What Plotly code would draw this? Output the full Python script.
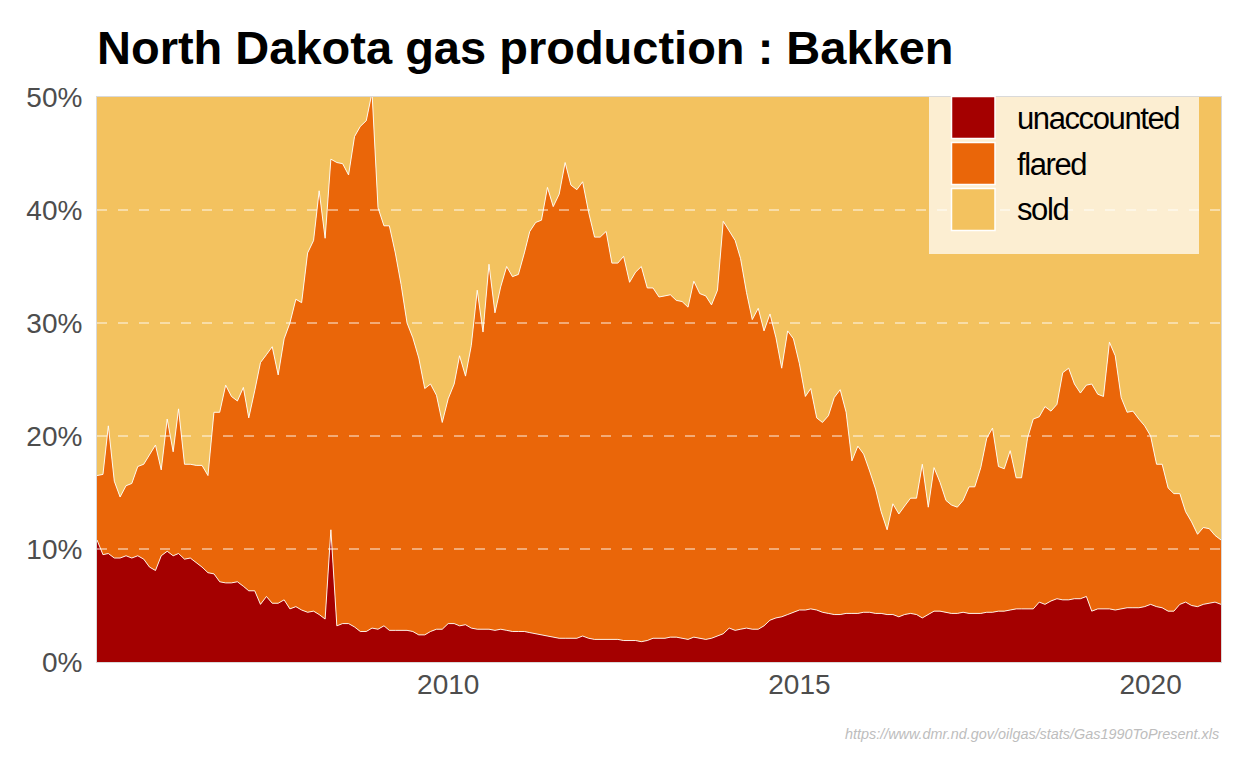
import plotly.graph_objects as go
import pandas as pd

# ---- data (percent of gross gas production, monthly Jan 2005 .. Jan 2021) ----
start_month = "2005-01-01"
n_months = 193

unaccounted = [
    10.8, 9.5, 9.6, 9.2, 9.2, 9.4, 9.2, 9.4, 9.1, 8.4,
    8.1, 9.4, 9.8, 9.4, 9.6, 9.1, 9.2, 8.8, 8.4, 7.9,
    7.8, 7.1, 7.0, 7.0, 7.1, 6.7, 6.3, 6.3, 5.1, 5.8,
    5.2, 5.2, 5.5, 4.7, 4.9, 4.6, 4.4, 4.5, 4.2, 3.8,
    11.7, 3.2, 3.4, 3.4, 3.1, 2.7, 2.7, 3.0, 2.9, 3.2,
    2.8, 2.8, 2.8, 2.8, 2.7, 2.4, 2.4, 2.7, 2.9, 2.9,
    3.4, 3.4, 3.2, 3.3, 3.0, 2.9, 2.9, 2.9, 2.8, 2.9,
    2.8, 2.7, 2.7, 2.7, 2.6, 2.5, 2.4, 2.3, 2.2, 2.1,
    2.1, 2.1, 2.1, 2.3, 2.1, 2.0, 2.0, 2.0, 2.0, 2.0,
    1.9, 1.9, 1.9, 1.8, 1.9, 2.1, 2.1, 2.1, 2.2, 2.2,
    2.1, 2.0, 2.2, 2.1, 2.0, 2.1, 2.3, 2.5, 3.0, 2.8,
    2.9, 3.0, 2.9, 2.9, 3.2, 3.7, 3.9, 4.0, 4.2, 4.4,
    4.6, 4.6, 4.7, 4.6, 4.4, 4.3, 4.2, 4.2, 4.3, 4.3,
    4.3, 4.4, 4.4, 4.3, 4.3, 4.2, 4.2, 4.0, 4.2, 4.3,
    4.2, 3.9, 4.2, 4.5, 4.5, 4.4, 4.3, 4.3, 4.4, 4.3,
    4.3, 4.3, 4.4, 4.4, 4.5, 4.5, 4.6, 4.7, 4.7, 4.7,
    4.7, 5.3, 5.1, 5.4, 5.6, 5.5, 5.5, 5.6, 5.6, 5.8,
    4.5, 4.7, 4.7, 4.7, 4.6, 4.7, 4.8, 4.8, 4.8, 4.9,
    5.1, 4.9, 4.8, 4.5, 4.5, 5.1, 5.3, 5.0, 4.9, 5.1,
    5.2, 5.3, 5.1,
]

# cumulative level: unaccounted + flared
unaccounted_plus_flared = [
    16.5, 16.6, 20.9, 16.0, 14.6, 15.6, 15.8, 17.3, 17.5, 18.3,
    19.2, 17.0, 21.5, 18.6, 22.4, 17.5, 17.5, 17.4, 17.4, 16.5,
    22.1, 22.1, 24.5, 23.5, 23.1, 24.3, 21.6, 24.0, 26.5, 27.2,
    27.9, 25.4, 28.6, 30.0, 32.1, 31.8, 36.2, 37.3, 41.7, 37.5,
    44.5, 44.2, 44.1, 43.1, 46.5, 47.4, 47.9, 50.4, 40.2, 38.6,
    38.6, 36.2, 33.4, 30.0, 28.7, 26.9, 24.2, 24.6, 23.6, 21.2,
    23.3, 24.6, 27.1, 25.3, 28.0, 32.9, 29.2, 35.2, 30.9, 33.2,
    35.0, 34.1, 34.3, 36.2, 38.1, 38.9, 39.1, 42.0, 40.3, 41.4,
    44.2, 42.2, 41.8, 42.5, 39.8, 37.6, 37.6, 38.1, 35.3, 35.3,
    35.9, 33.6, 34.5, 35.0, 33.1, 33.1, 32.3, 32.4, 32.5, 32.0,
    31.9, 31.4, 33.7, 32.6, 32.4, 31.6, 32.9, 39.0, 38.1, 37.3,
    35.7, 32.7, 30.3, 31.3, 29.3, 30.8, 28.7, 26.0, 29.3, 28.6,
    26.4, 23.5, 24.2, 21.6, 21.2, 21.8, 23.4, 24.1, 22.1, 17.8,
    19.1, 18.4, 16.9, 15.3, 13.3, 11.7, 14.0, 13.1, 13.8, 14.5,
    14.5, 17.5, 13.7, 17.2, 15.9, 14.3, 13.9, 13.7, 14.3, 15.5,
    15.5, 17.2, 19.8, 20.7, 17.3, 17.1, 18.7, 16.3, 16.3, 19.8,
    21.5, 21.7, 22.6, 22.2, 22.8, 25.6, 26.0, 24.6, 23.8, 24.5,
    24.6, 23.7, 23.5, 28.3, 27.1, 23.4, 22.1, 22.2, 21.5, 20.9,
    20.0, 17.5, 17.5, 15.4, 14.9, 14.9, 13.3, 12.4, 11.3, 11.9,
    11.8, 11.2, 10.8,
]

series_names = ["unaccounted", "flared", "sold"]
year_ticks = [2010, 2015, 2020]
pct_ticks = [0, 10, 20, 30, 40, 50]

months = pd.date_range(start_month, periods=n_months, freq="MS")
flared = [round(t - u, 2) for t, u in zip(unaccounted_plus_flared, unaccounted)]
sold = [round(100 - t, 2) for t in unaccounted_plus_flared]

colors = {"unaccounted": "#A40000", "flared": "#EA6609", "sold": "#F3C25F"}

fig = go.Figure()
for name, vals, lw in [("unaccounted", unaccounted, 0.9),
                       ("flared", flared, 0.9),
                       ("sold", sold, 0)]:
    fig.add_trace(go.Scatter(
        x=months, y=vals, name=name, mode="lines", stackgroup="one",
        fillcolor=colors[name],
        line=dict(color="white", width=lw),
        showlegend=False, hoverinfo="skip",
    ))

# ---- layout geometry (page pixels; the page body adds an 8px offset) ----
W, H = 1248, 768
OFF = 8
L, R, T, B = 97, 1221, 97, 662   # plot area in page coordinates


def px(x):
    return (x - L) / (R - L)


def py(y):
    return (B - y) / (B - T)


shapes = []
for v in pct_ticks[1:-1]:
    shapes.append(dict(type="line", xref="paper", yref="y", x0=0, x1=1, y0=v, y1=v,
                       line=dict(color="rgba(255,255,255,0.9)", width=1.1, dash="10px,11px"),
                       layer="above"))
shapes.append(dict(type="rect", xref="paper", yref="paper",
                   x0=px(929), x1=px(1199), y0=py(254), y1=py(97),
                   fillcolor="rgba(255,255,255,0.72)", line=dict(width=0), layer="above"))
sw_tops = [96.5, 142.5, 188.5]
for name, top in zip(series_names, sw_tops):
    shapes.append(dict(type="rect", xref="paper", yref="paper",
                       x0=px(951.5), x1=px(995), y0=py(top + 42), y1=py(top),
                       fillcolor=colors[name], line=dict(color="white", width=1.5),
                       layer="above"))

annotations = []
for name, top in zip(series_names, sw_tops):
    annotations.append(dict(xref="paper", yref="paper", x=px(1015), y=py(top + 21.5),
                            xanchor="left", yanchor="middle", showarrow=False,
                            text=f'<span style="letter-spacing:-1.4px">{name}</span>',
                            font=dict(family="Liberation Sans, Arial", size=31, color="black")))
annotations.append(dict(xref="paper", yref="paper", x=1.0, y=py(734),
                        xanchor="right", yanchor="middle", showarrow=False,
                        text="<i>https://www.dmr.nd.gov/oilgas/stats/Gas1990ToPresent.xls</i>",
                        font=dict(family="Liberation Sans, Arial", size=14.4, color="#BDBDBD")))

tick_font = dict(family="Liberation Sans, Arial", size=28, color="#4D4D4D")

fig.update_layout(
    width=W, height=H,
    margin=dict(l=L - OFF, r=W - (R - OFF), t=T - OFF, b=H - (B - OFF)),
    paper_bgcolor="white",
    plot_bgcolor=colors["sold"],
    title=dict(text="<b>North Dakota gas production : Bakken</b>",
               x=(L - OFF) / W, xanchor="left", xref="container",
               y=1 - 40 / H, yanchor="middle", yref="container",
               font=dict(family="Liberation Sans, Arial", size=47, color="black")),
    xaxis=dict(type="date", range=[months[0], months[-1]],
               tickvals=[pd.Timestamp(f"{y}-01-01") for y in year_ticks],
               ticktext=[str(y) for y in year_ticks],
               showgrid=False, zeroline=False, ticks="", ticklabelstandoff=-3,
               showline=True, mirror=True, linecolor="#D9D9D9", linewidth=1,
               tickfont=tick_font),
    yaxis=dict(range=[0, 50], tickvals=pct_ticks,
               ticktext=[f"{v}%" for v in pct_ticks],
               showgrid=False, zeroline=False, ticks="", ticklabelstandoff=8,
               showline=True, mirror=True, linecolor="#D9D9D9", linewidth=1,
               tickfont=tick_font),
    shapes=shapes,
    annotations=annotations,
)

fig.write_html("out.html")
